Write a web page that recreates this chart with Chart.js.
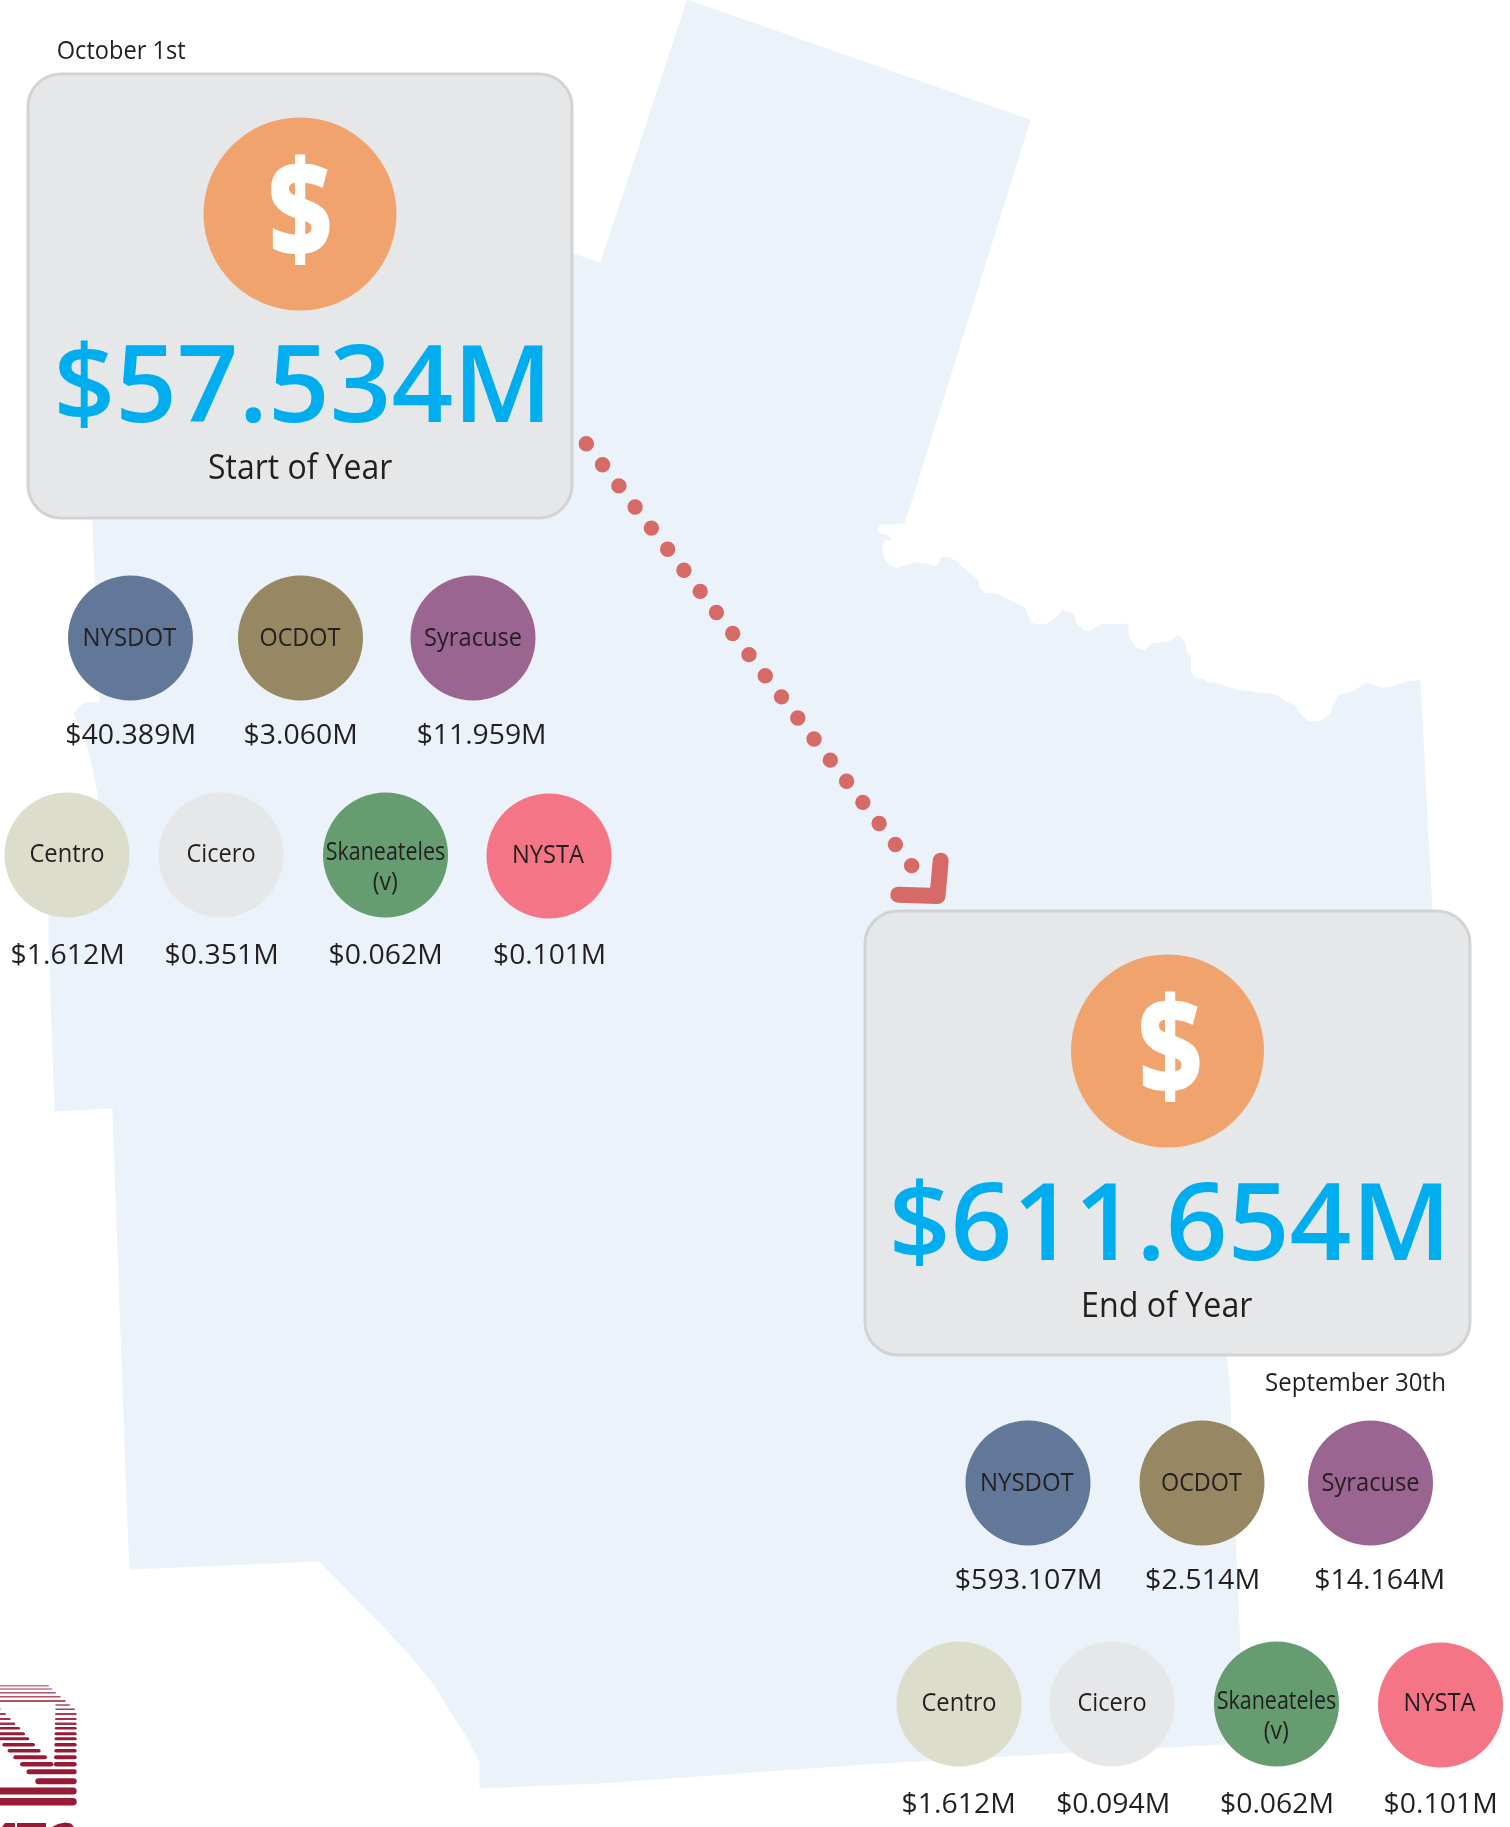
<!DOCTYPE html>
<html>
<head>
<meta charset="utf-8">
<title>Funding at start and end of year</title>
<style>html,body{margin:0;padding:0;background:#fff}canvas{display:block}</style>
<script src="https://cdn.jsdelivr.net/npm/chart.js@4"></script>
</head>
<body>
<canvas id="c" width="1510" height="1827"></canvas>
<script>
// ---------- values ----------
const agencyLines = [["NYSDOT"],["OCDOT"],["Syracuse"],["Centro"],["Cicero"],["Skaneateles","(v)"],["NYSTA"]];
const startValues = [40.389, 3.060, 11.959, 1.612, 0.351, 0.062, 0.101];
const endValues   = [593.107, 2.514, 14.164, 1.612, 0.094, 0.062, 0.101];
const startTotal = 57.534;
const endTotal   = 611.654;
const startDate = "October 1st";
const endDate   = "September 30th";
const startTitle = "Start of Year";
const endTitle   = "End of Year";

// ---------- layout (page units, mapped through the chart's scales) ----------
const agencyColors = ["#627899","#978762","#9a6591","#dcddcb","#e6e7e8","#659c70","#f47586"];
const startCircleX = [130.5,300.5,473,67,221,385.5,549];
const startCircleY = [638,638,638,855,855,855,856];
const endCircleX   = [1028,1202,1370.5,959,1112,1276.5,1440.5];
const endCircleY   = [1483,1483,1483,1704,1704,1704,1705];
const smallR = 62.5, bigR = 96.5;
const startValueX = [130,300,481,67,221,385,549];
const startValueY = [744,744,744,964,964,964,964];
const startValueW = [129,112,128,112,112,112,111];
const endValueX   = [1028,1202,1379,958,1112.6,1276.4,1440];
const endValueY   = [1589,1589,1589,1813,1813,1813,1813];
const endValueW   = [146,113,129,112,112,112,112];
const startLabelY = [646,646,646,862,862,860,863];
const endLabelY   = [1491,1491,1491,1711,1711,1709,1711];
const labelW = [93,81,97,74,68,119,71];
const vLineW = 24, vLineGap = 30;
const boxes = [{x0:28,y0:74,x1:572,y1:518},{x0:865,y0:911,x1:1470,y1:1355}];
const bigCircles = [{x:300,y:214},{x:1167.5,y:1051}];
const mapOutline = [
 [687,0],[1030,120],[911.6,500],[904,523],[893.6,524],[886,524],[878.3,524],[876.7,530],[878.3,533.3],[887.8,536],[891.7,540],[885.2,539.3],[881.3,546.7],[882.9,556.7],[889.7,566],[896.6,568.3],[905,565.7],[916.5,562.7],[928,564],[935.7,566.7],[940.3,561.7],[941.4,557.3],[949,557.3],[956.7,561.7],[966.3,570.7],[977.8,580],[979.7,588.3],[985.4,593.3],[996.9,594],[1008.4,600],[1023.7,607.3],[1027.5,615],[1031.4,623.3],[1039,625.3],[1046.7,624],[1058.1,616.7],[1062,610],[1073.4,614],[1075.4,621.7],[1083,630.7],[1088.8,631.7],[1102.2,624],[1107.9,625],[1127,624],[1127.8,635],[1134.7,646.7],[1144.2,650.7],[1151.9,644],[1169.1,642],[1178.7,635.3],[1184.4,641.7],[1186.3,651.7],[1190.2,656.7],[1190.2,671.7],[1195.9,678.3],[1203.6,680],[1207.4,682.7],[1217,683.3],[1226.5,687.3],[1241.8,690.7],[1257.1,692.7],[1274.4,694.3],[1284,700.7],[1295.4,706.7],[1299.3,713.3],[1308.8,721.7],[1320.3,721.7],[1331.8,713.3],[1331.8,708.3],[1339.4,695],[1352.8,691.7],[1366.2,683.3],[1383.4,688.3],[1393,686.7],[1410.2,681],[1420,681],
 [1432,909],[1432,1000],[1226,1340],[1226,1355],[1229,1380],[1240,1650],[1243,1742],[1225,1744],[880,1763],[600,1783],[480,1788],[480,1762],[467,1737],[433,1683],[410,1655],[384,1627],[319,1561],[130,1569],[127,1500],[114,1140],[113,1108],[55,1111],[49,940],[49,917],[48,860],[99,800],[96,783],[88,747],[74,713],[84,703],[100,703],[94,550],[93,519],[300,300],[573,254],[600,263]
];
const dotPath = [[586.3,443.7],[911.7,865.7]];
const arrowPath = [[940.7,860.7],[937.5,896],[898.3,894.7]];
const logoStripes = [
 [0,49,1685.7,1.5,.6],[0,52.3,1689,1.5,.6],[0,56,1692.7,1.5,.75],[0,60.7,1696.7,1.6,.75],[0,65.7,1701,1.8,.75],
 [56,70,1705,1.5,.8],[56,75,1709.3,1.5,.85],[56,76.7,1714,2,.85],[56,76.7,1719,2,.9],[56,76.7,1723.7,2.4,.9],[56,76.7,1728.3,2.4,1],[56,76.7,1733.7,3,1],[56,76.7,1738.7,3,1],[56,76.7,1744.7,3.5,1],[56,76.7,1750.7,3.5,1],[56,76.7,1757.3,4,1],[56,76.7,1764.3,4.5,1],
 [0,1.7,1709.3,1.5,.85],[0,6,1714,2,.85],[0,10.7,1719,2,.9],[0,15.3,1723.7,2.4,.9],[0,20,1728.3,2.4,1],[0,25,1733.7,3,1],[0,29.3,1738.7,3,1],[4,35,1744.7,3.5,1],[9.3,40.7,1750.7,3.5,1],[15.3,47,1757.3,4,1],[22.3,53.3,1764.3,4.5,1],
 [29,76.7,1771.7,5,1],[38.3,76.7,1781.3,6,1],[0,76.7,1791,7,1],[0,76.7,1801.7,7.5,1]
];
const logoLetters = [
 [[2,1827],[5,1823],[15,1823],[15,1827]],
 [[17,1823],[46,1823],[46,1827],[17,1827]],
 [[52,1827],[58,1824],[65,1822.5],[71,1823.5],[74,1827]]
];
const INK = "#231f20", BLUE = "#00aeef", LOGO = "#961b36", RED = "#d56a67", MAP = "#ebf2fa";

const money = v => "$" + v.toFixed(3) + "M";
const toXY = p => ({x:p[0], y:p[1]});

// ---------- text table, all placed in scale units ----------
const F = '"Open Sans", sans-serif';
const texts = [
 {t:startDate, x:121.5, y:59, w:129, s:26},
 {t:money(startTotal), x:300.6, y:422, w:489, s:106, wt:600, c:BLUE},
 {t:startTitle, x:300.5, y:479, w:185, s:35},
 {t:"$", x:300.5, y:257, w:60, s:134, wt:800, c:"#fff"},
 {t:endDate, x:1355, y:1391, w:180, s:26},
 {t:money(endTotal), x:1167.5, y:1260, w:553, s:106, wt:600, c:BLUE},
 {t:endTitle, x:1168, y:1317, w:170, s:35},
 {t:"$", x:1170.3, y:1094, w:60, s:134, wt:800, c:"#fff"}
];
function addAgencyTexts(vals, cx, ly, vx, vy, vw){
  vals.forEach((v,i)=>{
    texts.push({t:money(v), x:vx[i], y:vy[i], w:vw[i], s:28});
    texts.push({t:agencyLines[i][0], x:cx[i], y:ly[i], w:labelW[i], s:25});
    if(agencyLines[i][1]) texts.push({t:agencyLines[i][1], x:cx[i], y:ly[i]+vLineGap, w:vLineW, s:25});
  });
}
addAgencyTexts(startValues,startCircleX,startLabelY,startValueX,startValueY,startValueW);
addAgencyTexts(endValues,endCircleX,endLabelY,endValueX,endValueY,endValueW);

// ---------- plugin: polygons, cards, fitted text ----------
const paperPlugin = {
  id:"paper",
  beforeDatasetDraw(chart,args){
    const ds = chart.data.datasets[args.index];
    if(!ds.polyFill) return;
    const ctx = chart.ctx, pts = chart.getDatasetMeta(args.index).data;
    ctx.save(); ctx.beginPath();
    pts.forEach((p,i)=> i? ctx.lineTo(p.x,p.y): ctx.moveTo(p.x,p.y));
    ctx.closePath(); ctx.fillStyle = ds.polyFill; ctx.fill(); ctx.restore();
  },
  afterDatasetDraw(chart,args){
    if(chart.data.datasets[args.index].label !== "map") return;
    const ctx = chart.ctx, X = chart.scales.x, Y = chart.scales.y;
    boxes.forEach(b=>{
      const x0=X.getPixelForValue(b.x0), x1=X.getPixelForValue(b.x1), y0=Y.getPixelForValue(b.y0), y1=Y.getPixelForValue(b.y1);
      ctx.save(); ctx.beginPath(); ctx.roundRect(x0,y0,x1-x0,y1-y0,33);
      ctx.fillStyle="#e6e7e8"; ctx.fill(); ctx.lineWidth=3; ctx.strokeStyle="#d1d3d4"; ctx.stroke(); ctx.restore();
    });
  },
  afterDatasetsDraw(chart){
    const ctx = chart.ctx, X = chart.scales.x, Y = chart.scales.y;
    texts.forEach(o=>{
      ctx.save();
      ctx.font = (o.wt||400)+" "+o.s+"px "+F;
      ctx.fillStyle = o.c||INK; ctx.textAlign="left"; ctx.textBaseline="alphabetic";
      const m = ctx.measureText(o.t);
      const ink = m.actualBoundingBoxRight + m.actualBoundingBoxLeft;
      const k = 0.99*o.w/ink;
      ctx.translate(X.getPixelForValue(o.x), Y.getPixelForValue(o.y));
      ctx.scale(k,1);
      ctx.fillText(o.t, -ink/2 + m.actualBoundingBoxLeft, 0);
      ctx.restore();
    });
  }
};

// ---------- datasets ----------
const bubble = (xs,ys,r,colors,label)=>({type:"bubble",label,order:10,clip:false,
  data:xs.map((x,i)=>({x,y:ys[i],r})),backgroundColor:colors,borderWidth:0});
const lineDs = (pts,o)=>Object.assign({type:"line",order:20,clip:false,pointRadius:0,tension:0,fill:false,data:pts.map(toXY)},o);

const datasets = [
  lineDs(mapOutline,{label:"map",order:100,polyFill:MAP,borderColor:MAP,borderWidth:1}),
  bubble(bigCircles.map(c=>c.x),bigCircles.map(c=>c.y),bigR,"#f0a36c","total"),
  bubble(startCircleX,startCircleY,smallR,agencyColors,"start"),
  bubble(endCircleX,endCircleY,smallR,agencyColors,"end"),
  lineDs(dotPath,{label:"dots",borderColor:RED,borderWidth:15.4,borderCapStyle:"round",borderDash:[0,26.64]}),
  lineDs(arrowPath,{label:"arrow",borderColor:RED,borderWidth:16,borderCapStyle:"round",borderJoinStyle:"round"})
];
logoStripes.forEach((s,i)=>{
  const c = s[4]<1 ? "rgba(150,27,54,"+s[4]+")" : LOGO;
  datasets.push(lineDs([[s[0],s[2]],[s[1]-s[3]/2,s[2]]],{label:"logo"+i,borderColor:c,borderWidth:s[3],borderCapStyle:"round"}));
});
logoLetters.forEach((p,i)=>datasets.push(lineDs(p,{label:"mark"+i,polyFill:LOGO,borderWidth:0})));

new Chart(document.getElementById("c"),{
  type:"bubble",
  data:{datasets},
  plugins:[paperPlugin],
  options:{
    responsive:false,animation:false,events:[],devicePixelRatio:1,
    layout:{padding:0,autoPadding:false},
    plugins:{legend:{display:false},tooltip:{enabled:false},title:{display:false}},
    scales:{
      x:{type:"linear",min:0,max:1510,display:false},
      y:{type:"linear",min:0,max:1827,reverse:true,display:false}
    }
  }
});
</script>
</body>
</html>
